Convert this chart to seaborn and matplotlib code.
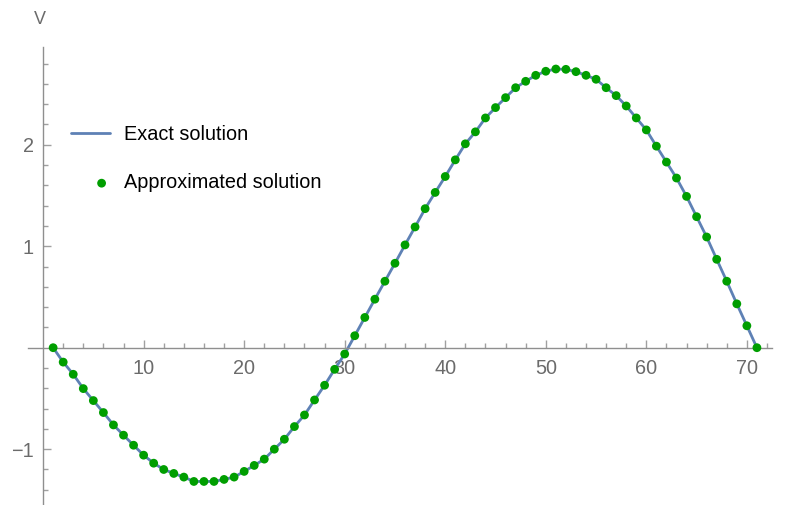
import matplotlib
matplotlib.use("Agg")
import matplotlib.pyplot as plt
import seaborn as sns
import numpy as np
import pandas as pd
from matplotlib.ticker import FixedLocator
from matplotlib.legend_handler import HandlerPathCollection

# ---- data ----
x_vals = list(range(1, 72))
v_vals = [0, -0.142, -0.262, -0.403, -0.521, -0.639, -0.761, -0.862, -0.961, -1.059,
          -1.138, -1.200, -1.239, -1.275, -1.318, -1.318, -1.318, -1.298, -1.275, -1.219,
          -1.160, -1.098, -1.0, -0.902, -0.777, -0.663, -0.515, -0.37, -0.213, -0.062,
          0.118, 0.298, 0.478, 0.655, 0.832, 1.013, 1.190, 1.370, 1.530, 1.687,
          1.851, 2.009, 2.127, 2.264, 2.366, 2.464, 2.562, 2.625, 2.684, 2.724,
          2.746, 2.743, 2.720, 2.684, 2.645, 2.562, 2.484, 2.382, 2.264, 2.146,
          1.986, 1.829, 1.672, 1.491, 1.291, 1.091, 0.871, 0.655, 0.432, 0.216, 0]
x_major = [10, 20, 30, 40, 50, 60, 70]
y_major = [-1, 1, 2]
series_labels = ["Exact solution", "Approximated solution"]
y_label = "V"

df = pd.DataFrame({"x": x_vals, "V": v_vals})

sns.set_style("white")
plt.rcParams["font.family"] = ["Liberation Sans", "DejaVu Sans"]

fig = plt.figure(figsize=(7.88, 5.05), dpi=100)
ax = fig.add_axes([28 / 788, 0, 744 / 788, 1 - 46.7 / 505])

line_color = "#5E81B5"
dot_color = "#009E00"
axis_color = "#8f8f8f"
tick_color = "#a0a0a0"
label_color = "#6b6b6b"

sns.lineplot(data=df, x="x", y="V", ax=ax, color=line_color, linewidth=2.0,
             label=series_labels[0])
sns.scatterplot(data=df, x="x", y="V", ax=ax, color=dot_color, s=40,
                edgecolor="none", label=series_labels[1], zorder=3)

ax.set_xlim(-1.5, 72.5)
ax.set_ylim(-1.55, 2.966)

for s in ["top", "right"]:
    ax.spines[s].set_visible(False)
ax.spines["left"].set_position(("data", 0))
ax.spines["bottom"].set_position(("data", 0))
for s in ["left", "bottom"]:
    ax.spines[s].set_color(axis_color)
    ax.spines[s].set_linewidth(1.0)

ax.xaxis.set_major_locator(FixedLocator(x_major))
ax.xaxis.set_minor_locator(FixedLocator([v for v in range(2, 73, 2) if v % 10 != 0]))
ax.yaxis.set_major_locator(FixedLocator(y_major))
ax.yaxis.set_minor_locator(FixedLocator([round(v, 1) for v in np.arange(-1.4, 2.95, 0.2)
                                         if abs(round(v, 1) - round(v)) > 1e-6]))
ax.set_xticklabels([str(v) for v in x_major])
ax.set_yticklabels(["\u22121", "1", "2"])

ax.tick_params(axis="both", which="both", bottom=True, left=True)
ax.tick_params(axis="both", which="major", direction="in", length=6, width=1,
               color=tick_color, labelcolor=label_color, labelsize=14.3)
ax.tick_params(axis="both", which="minor", direction="in", length=3.8, width=1,
               color=tick_color)
ax.tick_params(axis="x", which="major", pad=8)
ax.tick_params(axis="y", which="major", pad=6.5)

ax.set_xlabel("")
ax.set_ylabel("")
fig.text(39.5 / 788, 1 - 19 / 505, y_label, ha="center", va="center",
         fontsize=13, color=label_color)


class DotHandler(HandlerPathCollection):
    def get_xdata(self, legend, xdescent, ydescent, width, height, fontsize):
        xm = -xdescent + width * 0.79
        return [xm], [xm]


leg = ax.legend(loc="upper left", bbox_to_anchor=(71 / 788, 1 - 125 / 505),
                bbox_transform=fig.transFigure, frameon=False, fontsize=14.3,
                handlelength=1.95, handletextpad=0.7, labelspacing=1.48,
                borderpad=0, borderaxespad=0, scatterpoints=1,
                handler_map={matplotlib.collections.PathCollection: DotHandler()})
for t in leg.get_texts():
    t.set_color("black")

fig.savefig("out.png", dpi=100)
